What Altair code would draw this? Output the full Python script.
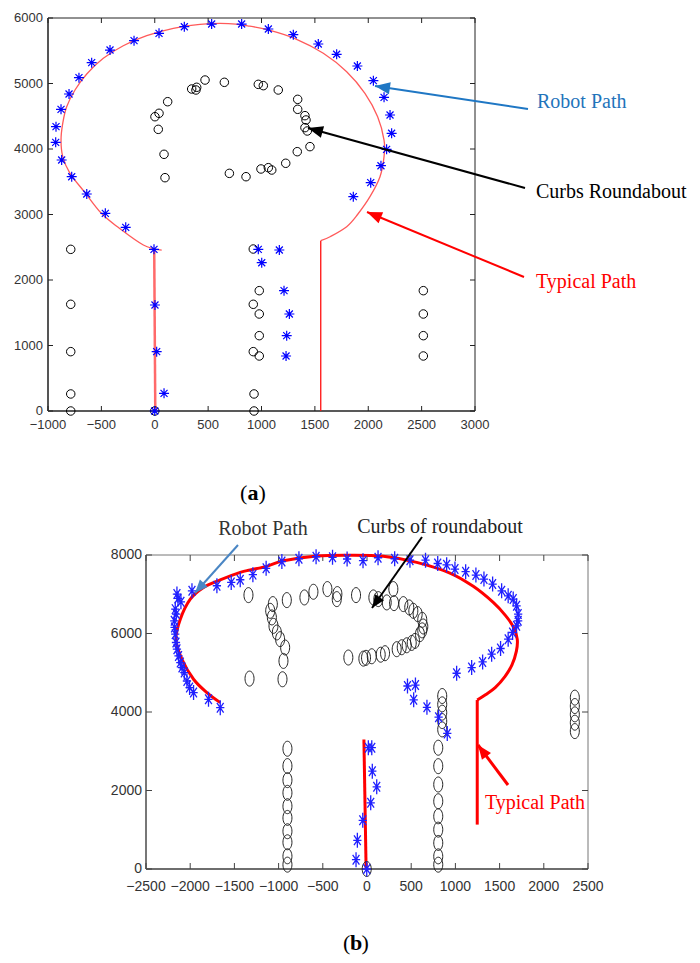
import math
import altair as alt
import pandas as pd

# ---------------- Panel (a) data ----------------
a_robot_x = [0, 87, 18, 2, -7, -272, -463, -637, -778, -872, -928, -925, -878, -803, -710,
             -591, -419, -194, 40, 277, 533, 814, 1064, 1298, 1532, 1704, 1898, 2048, 2148,
             2204, 2219, 2172, 2119, 2023, 1860, 970, 1167, 1002, 1211, 1261, 1236, 1230]
a_robot_y = [0, 270, 906, 1618, 2468, 2804, 3018, 3313, 3577, 3832, 4102, 4341, 4606, 4840, 5089,
             5318, 5511, 5654, 5766, 5867, 5908, 5908, 5832, 5745, 5603, 5446, 5267, 5043, 4789,
             4519, 4240, 3995, 3745, 3486, 3272, 2468, 2458, 2264, 1837, 1481, 1150, 840]

a_curb_x = [33, 2, 40, 121, 87, 96, 346, 393, 386, 471, 652, 699, 970, 1017, 1157, 1339, 1339,
            1407, 1417, 1407, 1429, 1454, 1335, 1227, 1096, 1064, 995, 855, 923, 979, 923, 979,
            979, 923, 979, 930, 930, 2516, 2516, 2516, 2516, -787, -787, -787, -787, -787, 0]
a_curb_y = [4300, 4493, 4545, 4722, 3919, 3562, 4916, 4942, 4901, 5053, 5018, 3628, 4987, 4967,
            4901, 4758, 4606, 4509, 4443, 4326, 4275, 4036, 3959, 3782, 3679, 3715, 3695, 3577,
            2473, 1837, 1629, 1481, 1150, 906, 840, 260, 0, 1837, 1481, 1150, 840, 2468, 1629,
            906, 260, 0, 0]

a_loop_x = [1555, 1642, 1798, 1900, 2016, 2110, 2148, 2148, 2088, 1969, 1798, 1579, 1329, 1064,
            870, 690, 424, 174, -75, -295, -482, -637, -747, -825, -862, -878, -862, -794, -653,
            -500, -343, -107, 65]
a_loop_y = [2600, 2661, 2814, 3000, 3272, 3577, 3883, 4137, 4493, 4850, 5180, 5461, 5675, 5817,
            5880, 5915, 5904, 5842, 5730, 5577, 5384, 5145, 4901, 4646, 4392, 4137, 3883, 3628,
            3333, 3018, 2804, 2534, 2455]
a_left_x = [-5, 5]
a_left_y = [2470, 0]
a_right_x = [1555, 1555]
a_right_y = [2600, 0]

a_xticks = [-1000, -500, 0, 500, 1000, 1500, 2000, 2500, 3000]
a_yticks = [0, 1000, 2000, 3000, 4000, 5000, 6000]

# ---------------- Panel (b) data ----------------
b_robot_x = [-1660, -1793, -1962, -2007, -2037, -2067, -2093, -2112, -2132, -2150, -2161, -2169,
             -2177, -2180, -2158, -2169, -2105, -2138, -2150, -1980,
             -1698, -1536, -1434, -1291, -1141, -963, -770, -576, -390, -225, -45, 125, 313,
             486, 662, 800, 901, 995, 1116, 1232, 1323, 1421, 1523, 1597, 1654, 1692, 1710,
             1710, 1692, 1647, 1597, 1511, 1410, 1308, 1184, 1014,
             458, 548, 528, 678, 810, 908,
             15, 54, 60, 110, 42, -48, -109, -124, -3]
b_robot_y = [4111, 4323, 4494, 4622, 4790, 5005, 5132, 5260, 5429, 5600, 5771, 5983,
             6154, 6323, 6494, 6621, 6808, 6894, 7004, 7088,
             7216, 7300, 7369, 7500, 7660, 7835, 7905, 7955, 7941, 7898, 7855, 7930, 7905,
             7868, 7868, 7783, 7750, 7642, 7574, 7489, 7387, 7260, 7088, 6961, 6876, 6706, 6494,
             6323, 6195, 6026, 5855, 5618, 5472, 5276, 5132, 4987,
             4663, 4685, 4310, 4118, 3868, 3455,
             3090, 3090, 2493, 2094, 1685, 1241, 730, 237, 0]

b_curb_x = [-1341, -907, -708, -606, -448, -335, -342, -124, 72, 128, 298, 223, 306, 411, 478,
            524, 573, 625, 637, 625, 599, 543, 506, 449, 393, 336, 204, 155, 54, -11, -41, -211,
            -1065, -1095, -1076, -1058, -1020, -983, -926, -945, -956, -1329,
            -900, -900, -900, -900, -900, -900, -900, -900, -900, -900,
            806, 806, 806, 806, 806, 806, 806, 806, 806,
            851, 851, 851, 851, 851,
            2351, 2351, 2351, 2351, 2351, -3]
b_curb_y = [6978, 6851, 6919, 7063, 7132, 7004, 6876, 6978, 6919, 6876, 7132, 6792, 6774, 6749,
            6664, 6578, 6494, 6348, 6179, 6080, 5983, 5812, 5760, 5700, 5650, 5600, 5498, 5460,
            5420, 5380, 5360, 5388,
            6749, 6578, 6409, 6195, 6026, 5855, 5643, 5301, 4834, 4851,
            3064, 2622, 2264, 1941, 1600, 1302, 962, 681, 324, 111,
            3090, 2620, 2153, 1726, 1343, 1003, 664, 322, 110,
            4407, 4195, 3983, 3769, 3557,
            4366, 4152, 3940, 3728, 3514, 0]

b_loop_x = [-1660, -1811, -1962, -2093, -2161, -2112, -1999, -1849, -1660, -1434, -1321, -1133,
            -945, -568, -191, 185, 562, 938, 1202, 1428, 1570, 1660, 1700, 1690, 1640, 1560,
            1450, 1340, 1247]
b_loop_y = [4239, 4494, 4834, 5344, 5855, 6366, 6876, 7175, 7369, 7558, 7620, 7711,
            7855, 7975, 7995, 7966, 7813, 7540, 7201, 6792, 6450, 6150, 5850, 5550, 5200, 4900,
            4620, 4440, 4305]
b_right_x = [1247, 1247]
b_right_y = [4305, 1131]
b_left_x = [-35, -10]
b_left_y = [3300, 0]

b_xticks = [-2500, -2000, -1500, -1000, -500, 0, 500, 1000, 1500, 2000, 2500]
b_yticks = [0, 2000, 4000, 6000, 8000]

# ---------------- helpers ----------------
ONE = pd.DataFrame({"k": [0]})
STAR_A = "M-1,0L1,0M0,-1L0,1M-0.7,-0.7L0.7,0.7M-0.7,0.7L0.7,-0.7"
STAR_B = "M-0.55,0L0.55,0M0,-1L0,1M-0.45,-0.65L0.45,0.65M-0.45,0.65L0.45,-0.65"
ELLIPSE_B = "M0,-1A0.6,1 0 1,1 0,1A0.6,1 0 1,1 0,-1Z"
HEAD = "M0,0L-0.4,1L0.4,1Z"


def arrow(sx, sy, tx, ty, color, width, size):
    ang = math.degrees(math.atan2(tx - sx, -(ty - sy))) % 360
    line = alt.Chart(ONE).mark_rule(color=color, strokeWidth=width).encode(
        x=alt.value(sx), y=alt.value(sy), x2=alt.value(tx), y2=alt.value(ty))
    head = alt.Chart(ONE).mark_point(shape=HEAD, filled=True, color=color, size=size,
                                     angle=ang, opacity=1, strokeWidth=0).encode(
        x=alt.value(tx), y=alt.value(ty))
    return [line, head]


def label(txt, x, y, color, size=20, align="left", weight="normal", font="Liberation Serif"):
    return alt.Chart(ONE).mark_text(text=txt, font=font, fontSize=size, color=color,
                                    align=align, baseline="middle", fontWeight=weight).encode(
        x=alt.value(x), y=alt.value(y))


def caption(letter, cx, y):
    return [
        label("(", cx - 5.6, y, "black", 22, "right"),
        label(letter, cx, y, "black", 22, "center", "bold"),
        label(")", cx + 5.6, y, "black", 22, "left"),
    ]


def frame_layers(x0, x1, y0, y1, xdom, ydom, xt, yt, tick_len, tick_color, box_color,
                 left_color, lab_size, xlab_y, ylab_x):
    """Scales with explicit pixel ranges, inward ticks, box and tick labels."""
    xs = alt.Scale(domain=xdom, range=[x0, x1], nice=False, zero=False)
    ys = alt.Scale(domain=ydom, range=[y1, y0], nice=False, zero=False)
    dx = pd.DataFrame({"t": xt})
    dy = pd.DataFrame({"t": yt})
    X = alt.X("t:Q", scale=xs, axis=None)
    Y = alt.Y("t:Q", scale=ys, axis=None)
    lab = dict(font="Liberation Sans", fontSize=lab_size, color="#333333")
    layers = [
        alt.Chart(ONE).mark_rect(fillOpacity=0, stroke=box_color, strokeWidth=1).encode(
            x=alt.value(x0), x2=alt.value(x1), y=alt.value(y0), y2=alt.value(y1)),
        alt.Chart(ONE).mark_rule(color="#222222", strokeWidth=1.2).encode(
            x=alt.value(x0), x2=alt.value(x1), y=alt.value(y1)),
        alt.Chart(ONE).mark_rule(color=left_color, strokeWidth=2).encode(
            x=alt.value(x0), y=alt.value(y0), y2=alt.value(y1)),
        alt.Chart(dx).mark_rule(color=tick_color, strokeWidth=1).encode(
            x=X, y=alt.value(y1), y2=alt.value(y1 - tick_len)),
        alt.Chart(dx).mark_rule(color=tick_color, strokeWidth=1).encode(
            x=X, y=alt.value(y0), y2=alt.value(y0 + tick_len)),
        alt.Chart(dy).mark_rule(color=tick_color, strokeWidth=1).encode(
            y=Y, x=alt.value(x0), x2=alt.value(x0 + tick_len)),
        alt.Chart(dy).mark_rule(color=tick_color, strokeWidth=1).encode(
            y=Y, x=alt.value(x1), x2=alt.value(x1 - tick_len)),
        alt.Chart(dx).mark_text(align="center", baseline="middle", **lab).encode(
            x=X, y=alt.value(xlab_y), text=alt.Text("t:Q", format="d")),
        alt.Chart(dy).mark_text(align="right", baseline="middle", **lab).encode(
            y=Y, x=alt.value(ylab_x), text=alt.Text("t:Q", format="d")),
    ]

    def enc():
        return dict(x=alt.X("x:Q", scale=xs, axis=None), y=alt.Y("y:Q", scale=ys, axis=None))

    return layers, enc


def path_df(xs, ys):
    return pd.DataFrame({"x": xs, "y": ys, "i": list(range(len(xs)))})


# ---------------- Panel (a) ----------------
a_layers, a_enc = frame_layers(48, 475, 18, 411, [-1000, 3000], [0, 6000], a_xticks, a_yticks,
                               5, "#222222", "#222222", "#555555", 13, 425, 43)
a_layers += [
    alt.Chart(path_df(a_loop_x, a_loop_y)).mark_line(
        color="#ff5a5a", strokeWidth=1.3, interpolate="cardinal").encode(order="i:Q", **a_enc()),
    alt.Chart(path_df(a_left_x, a_left_y)).mark_line(color="#ff6a6a", strokeWidth=2.5).encode(
        order="i:Q", **a_enc()),
    alt.Chart(path_df(a_right_x, a_right_y)).mark_line(color="#ff1010", strokeWidth=1.3).encode(
        order="i:Q", **a_enc()),
    alt.Chart(pd.DataFrame({"x": a_curb_x, "y": a_curb_y})).mark_point(
        shape="circle", filled=False, color="black", size=72, strokeWidth=1, opacity=1).encode(
        **a_enc()),
    alt.Chart(pd.DataFrame({"x": a_robot_x, "y": a_robot_y})).mark_point(
        shape=STAR_A, filled=False, color="#0000ff", size=100, strokeWidth=1.2, opacity=1).encode(
        **a_enc()),
]
a_layers += arrow(528, 109, 375, 86, "#1f77c4", 2, 900)
a_layers += arrow(525, 188, 308, 128, "black", 2, 900)
a_layers += arrow(524, 277, 367, 212, "#ff0000", 2, 900)
a_layers += [
    label("Robot Path", 537, 102, "#1f74bb"),
    label("Curbs Roundabout", 536, 192, "black"),
    label("Typical Path", 536, 282, "#ff0000"),
]
a_layers += caption("a", 253, 493)

panel_a = alt.layer(*a_layers)

# ---------------- Panel (b) ----------------
b_layers, b_enc = frame_layers(146, 588, 555, 869, [-2500, 2500], [0, 8000], b_xticks, b_yticks,
                               6, "#444444", "#777777", "#777777", 14, 887, 142)
b_layers += [
    alt.Chart(path_df(b_loop_x, b_loop_y)).mark_line(
        color="#ff0000", strokeWidth=3, interpolate="cardinal").encode(order="i:Q", **b_enc()),
    alt.Chart(path_df(b_right_x, b_right_y)).mark_line(color="#ff0000", strokeWidth=3).encode(
        order="i:Q", **b_enc()),
    alt.Chart(path_df(b_left_x, b_left_y)).mark_line(color="#ff0000", strokeWidth=3).encode(
        order="i:Q", **b_enc()),
    alt.Chart(pd.DataFrame({"x": b_curb_x, "y": b_curb_y})).mark_point(
        shape=ELLIPSE_B, filled=False, color="#222222", size=225, strokeWidth=1, opacity=1).encode(
        **b_enc()),
    alt.Chart(pd.DataFrame({"x": b_robot_x, "y": b_robot_y})).mark_point(
        shape=STAR_B, filled=False, color="#2020ff", size=225, strokeWidth=1.3, opacity=1).encode(
        **b_enc()),
]
b_layers += arrow(238, 545, 195, 593, "#4a86c4", 2, 700)
b_layers += arrow(422, 537, 372, 608, "black", 2, 700)
b_layers += arrow(508, 785, 478, 745, "#ff0000", 3, 800)
b_layers += [
    label("Robot Path", 263, 529, "#333333", 20, "center"),
    label("Curbs of roundabout", 440, 527, "#222222", 20, "center"),
    label("Typical Path", 535, 803, "#ff0000", 20, "center"),
]
b_layers += caption("b", 356, 943)

panel_b = alt.layer(*b_layers)

chart = alt.layer(panel_a, panel_b).resolve_scale(
    x="independent", y="independent"
).properties(
    width=700, height=963, padding=0, background="white",
    autosize=alt.AutoSizeParams(type="none", contains="padding"),
).configure_view(stroke=None)

chart.save("out.html", embed_options={"renderer": "svg", "actions": False})
